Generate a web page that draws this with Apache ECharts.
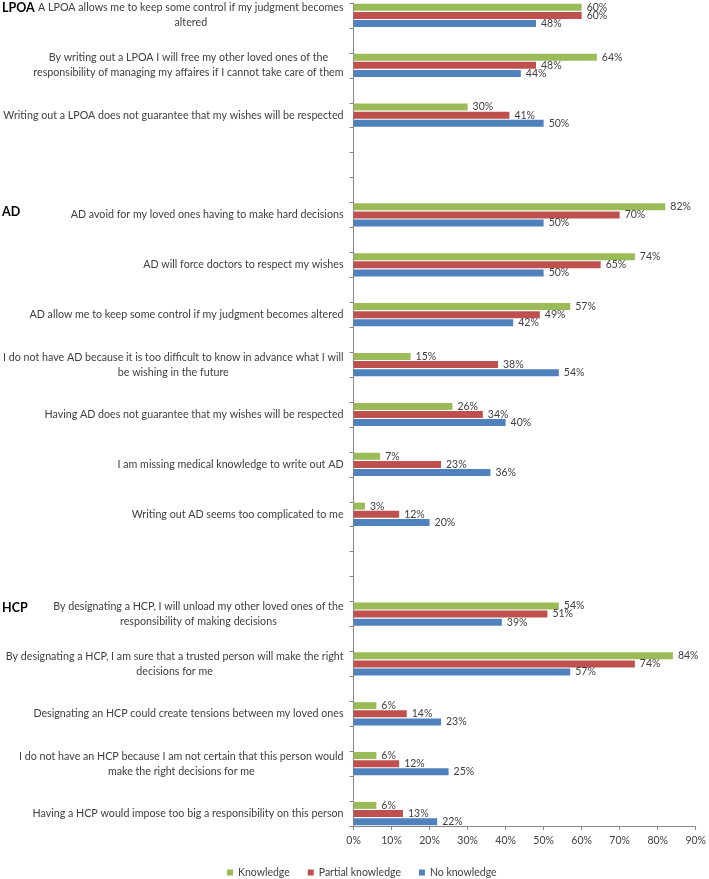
<!DOCTYPE html>
<html>
<head>
<meta charset="utf-8">
<script src="https://cdn.jsdelivr.net/npm/echarts@6/dist/echarts.min.js"></script>
<style>html,body{margin:0;padding:0;background:#fff;}#c{width:709px;height:879px;}</style>
</head>
<body>
<div id="c"></div>
<script>
// ---- data ----
var sections = ['LPOA', 'AD', 'HCP'];
var lpoaItems = [
  'A LPOA allows me to keep some control if my judgment becomes\naltered',
  'By writing out a LPOA I will free my other loved ones of the\nresponsibility of managing my affaires if I cannot take care of them',
  'Writing out a LPOA does not guarantee that my wishes will be respected'
];
var adItems = [
  'AD avoid for my loved ones having to make hard decisions',
  'AD will force doctors to respect my wishes',
  'AD allow me to keep some control if my judgment becomes altered',
  'I do not have AD because it is too difficult to know in advance what I will\nbe wishing in the future',
  'Having AD does not guarantee that my wishes will be respected',
  'I am missing medical knowledge to write out AD',
  'Writing out AD seems too complicated to me'
];
var hcpItems = [
  'By designating a HCP, I will unload my other loved ones of the\nresponsibility of making decisions',
  'By designating a HCP, I am sure that a trusted person will make the right\ndecisions for me',
  'Designating an HCP could create tensions between my loved ones',
  'I do not have an HCP because I am not certain that this person would\nmake the right decisions for me',
  'Having a HCP would impose too big a responsibility on this person'
];
var knowledgeLPOA = [60, 64, 30];
var partialLPOA   = [60, 48, 41];
var noneLPOA      = [48, 44, 50];
var knowledgeAD = [82, 74, 57, 15, 26, 7, 3];
var partialAD   = [70, 65, 49, 38, 34, 23, 12];
var noneAD      = [50, 50, 42, 54, 40, 36, 20];
var knowledgeHCP = [54, 84, 6, 6, 6];
var partialHCP   = [51, 74, 14, 12, 13];
var noneHCP      = [39, 57, 23, 25, 22];
var xTicks = [0, 10, 20, 30, 40, 50, 60, 70, 80, 90];
var seriesNames = ['Knowledge', 'Partial knowledge', 'No knowledge'];

// ---- build the category slots (items separated by blank rows) ----
var groups = [
  {items: lpoaItems, k: knowledgeLPOA, p: partialLPOA, n: noneLPOA},
  {items: adItems,   k: knowledgeAD,   p: partialAD,   n: noneAD},
  {items: hcpItems,  k: knowledgeHCP,  p: partialHCP,  n: noneHCP}
];
var cats = [], kData = [], pData = [], nData = [], sectionIdx = [];
var blankCount = 0;
function addBlank() {
  blankCount++;
  cats.push(new Array(blankCount + 1).join('\u200b'));
  kData.push('-'); pData.push('-'); nData.push('-');
}
groups.forEach(function (g, gi) {
  if (gi > 0) { addBlank(); addBlank(); addBlank(); }
  sectionIdx.push(cats.length);
  g.items.forEach(function (it, i) {
    if (i > 0) addBlank();
    cats.push(it);
    kData.push(g.k[i]); pData.push(g.p[i]); nData.push(g.n[i]);
  });
});

var colors = ['#9BBB59', '#C0504D', '#4F81BD'];
var txt = '#404040';
var FONT = 'Lato';
var LBL = 10.7;

function barSeries(name, data, color) {
  return {
    name: name, type: 'bar', data: data,
    barWidth: 7, barGap: '16%',
    itemStyle: {color: color},
    label: {show: true, position: 'right', distance: 5, formatter: '{c}%',
            fontSize: 10.5, color: txt, fontFamily: FONT},
    emphasis: {disabled: true},
    animation: false
  };
}

var chart = echarts.init(document.getElementById('c'), null, {renderer: 'canvas'});
var option = {
  animation: false,
  textStyle: {fontFamily: FONT},
  grid: {left: 353, right: 11, top: 3, bottom: 53, containLabel: false},
  xAxis: {
    type: 'value', min: 0, max: 90, interval: 10,
    axisLine: {show: true, lineStyle: {color: '#868686', width: 1}},
    axisTick: {show: true, length: 4, lineStyle: {color: '#868686'}},
    splitLine: {show: false},
    axisLabel: {formatter: '{value}%', fontSize: 10.5, color: txt, margin: 9, fontFamily: FONT}
  },
  yAxis: {
    type: 'category', inverse: true, data: cats,
    axisLine: {show: true, lineStyle: {color: '#868686', width: 1}},
    axisTick: {show: true, length: 4, interval: 0, lineStyle: {color: '#868686'}},
    splitLine: {show: false},
    axisLabel: {
      interval: 0, margin: 10, fontSize: LBL, color: txt, fontFamily: FONT, align: 'right',
      formatter: function (v) {
        if (!v || /^\u200b+$/.test(v)) return '';
        return v.split('\n').map(function (l) { return '{c|' + l + '}'; }).join('\n');
      },
      rich: {c: {align: 'center', fontSize: LBL, color: txt, fontFamily: FONT, lineHeight: 15}}
    }
  },
  legend: {
    data: seriesNames, left: 227, top: 867, padding: 0, icon: 'rect', itemWidth: 6, itemHeight: 6,
    itemGap: 18, textStyle: {fontSize: 10.5, color: txt, fontFamily: FONT}
  },
  series: [
    barSeries(seriesNames[0], kData, colors[0]),
    barSeries(seriesNames[1], pData, colors[1]),
    barSeries(seriesNames[2], nData, colors[2])
  ]
};
chart.setOption(option);

// section headings next to the first item of each block
var offsets = [-7, -3, -6];
var graphics = sections.map(function (s, i) {
  var y = chart.convertToPixel({yAxisIndex: 0}, sectionIdx[i]);
  return {
    type: 'text', left: 2, top: y + offsets[i] - 7,
    style: {text: s, font: 'bold 12.5px ' + FONT, fill: '#000'}
  };
});
chart.setOption({graphic: graphics});
</script>
</body>
</html>
